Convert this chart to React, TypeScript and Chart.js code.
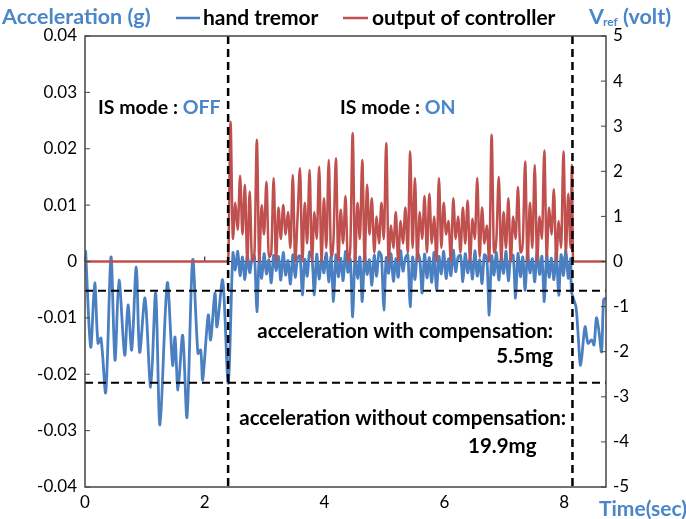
import React, { useEffect, useRef } from "react";
import { Chart, registerables } from "chart.js";
Chart.register(...registerables);

// ---- axes ----
const xTicks = [0, 2, 4, 6, 8];
const leftTicks = [-0.04, -0.03, -0.02, -0.01, 0, 0.01, 0.02, 0.03, 0.04];
const rightTicks = [-5, -4, -3, -2, -1, 0, 1, 2, 3, 4, 5];

// ---- hand tremor (mg) : IS mode OFF ----
const tremorOffT = [0.01, 0.095, 0.162, 0.217, 0.267, 0.346, 0.434, 0.501, 0.568, 0.663, 0.718, 0.78, 0.856, 0.913, 1.002, 1.097, 1.18, 1.252, 1.374, 1.464, 1.503, 1.553, 1.631, 1.703, 1.798, 1.886, 1.932, 1.965, 2.058, 2.098, 2.17, 2.204, 2.299, 2.392];
const tremorOffMg = [2.0, -15.2, -3.8, -14.5, -13.6, -23.2, 0.8, -17.5, -3.3, -16.6, -7.7, -15.7, -1.0, -16.1, -6.5, -22.3, -5.6, -29.0, -3.8, -18.4, -13.4, -22.8, -13.1, -27.6, 0.3, -16.3, -15.7, -21.0, -9.5, -13.9, -5.6, -11.6, -3.3, -21.6];

// ---- hand tremor (mg) : IS mode ON, sampled every 0.04 s from 2.47 s ----
const tremorOnStart = 2.47;
const tremorOnStep = 0.04;
const tremorOnMg = [
  1.5, -1.5, 1.8, -2.5, 0.8, -3.2, 1.2, -2.0, 0.5, 1.0,
  -8.9, 0.6, -3.0, 1.4, -2.2, 0.3, -3.8, 1.1, -1.6, 0.9,
  -3.3, 1.6, -2.4, 0.2, -4.0, 1.2, -2.8, 0.7, 1.0, -5.9,
  0.4, -2.6, 1.7, 0.8, -5.9, 1.3, -3.1, 0.5, -2.0, 1.5,
  -3.6, 0.9, -7.1, 1.2, -2.7, 0.6, -3.4, 1.8, -1.9, 0.4,
  -9.8, 1.0, -3.0, 0.8, -7.1, 1.5, -2.3, 0.3, -4.2, 1.1,
  -2.6, 1.7, 0.9, -8.6, 0.7, -2.1, 1.4, -3.5, 0.5, -2.8,
  1.9, -1.7, 0.6, 1.2, -8.0, 0.8, -3.2, 1.5, 0.4, -5.6,
  1.3, -2.9, 0.7, -3.7, 1.6, -5.1, 0.9, -2.2, 1.8, -3.0,
  0.5, -2.5, 2.0, -1.8, 0.8, 1.1, -3.6, 1.4, -2.0, 0.6,
  -3.1, 1.9, -2.6, 0.3, -3.9, 1.2, 0.5, -9.5, 1.0, -2.4,
  1.6, -3.3, 0.7, -2.1, 1.8, -3.4, 0.9, 1.1, -6.5, 1.4,
  -2.7, 0.8, -5.1, 1.6, -2.0, 0.5, -3.6, 1.9, -2.3, 0.9,
  -7.1, 1.3, -2.8, 0.6, -3.2, 1.7, -6.0, 1.2, -2.5, 2.0,
  -3.0, 0.5,
];

// ---- hand tremor (mg) : after IS mode switched off ----
const tremorTailT = [8.125, 8.197, 8.23, 8.276, 8.35, 8.4, 8.46, 8.5, 8.54, 8.58, 8.626, 8.66, 8.7];
const tremorTailMg = [-5.4, -8.0, -12.2, -18.4, -11.6, -14.5, -13.9, -14.8, -10.0, -12.2, -16.0, -6.8, -6.5];

// ---- output of controller (volt) ----
const ctrlOffT = [0];
const ctrlOffV = [0];
const ctrlOnStart = 2.39;
const ctrlOnStep = 0.04;
const ctrlOnV = [
  0, 3.1, 0.5, 1.3, 0.7, 1.9, 0.6, 1.7, 0, 1.55,
  0, 0.2, 2.7, 0, 1.25, 0.6, 1.77, 0.1, 0.2, 1.85,
  0, 1.2, 0.5, 1.25, 0.6, 1.1, 0.3, 1.92, 0, 1.0,
  2.07, 0, 1.3, 0.4, 2.03, 0, 1.1, 0.5, 2.1, 0,
  1.4, 0.3, 2.25, 0.1, 0.5, 2.29, 0, 1.15, 0.4, 1.45,
  0, 0.3, 2.85, 0, 1.3, 0.5, 2.25, 0, 1.7, 0.6,
  1.4, 0.2, 1.0, 0.4, 1.3, 0.5, 2.63, 0, 0.8, 0.3,
  1.1, 0, 0.9, 0.4, 1.2, 0.2, 2.44, 0.3, 1.85, 0,
  1.1, 0.5, 1.45, 0.2, 1.5, 0.4, 1.0, 0, 1.85, 0.3,
  1.3, 0.6, 0.9, 0, 1.4, 0.5, 1.0, 0.2, 1.2, 0.4,
  1.35, 0, 0.95, 0.5, 1.85, 0.1, 1.2, 0.4, 0.8, 0,
  2.81, 0.2, 0.5, 1.88, 0, 1.1, 0.3, 1.4, 0, 1.0,
  0.5, 1.65, 0.2, 0.4, 2.22, 0, 1.3, 0.3, 2.14, 0,
  1.0, 0.5, 2.46, 0.1, 1.2, 0.6, 1.6, 0, 0.9, 0.3,
  2.44, 0.2, 1.5, 0.3,
];
const ctrlTailT = [8.13, 8.15, 8.7];
const ctrlTailV = [2.14, 0, 0];

// ---- reference marks ----
const modeSwitchT = [2.39, 8.14];
const compLevelsG = [-0.0052, -0.0215];

const BLUE = "#4a7fc1";
const RED = "#c0504d";
const LABEL_BLUE = "#4a86c8";
const FONT = "Lato, 'Open Sans', sans-serif";

function buildTremor() {
  const pts: { x: number; y: number }[] = [];
  tremorOffT.forEach((t, i) => pts.push({ x: t, y: tremorOffMg[i] / 1000 }));
  tremorOnMg.forEach((v, i) => pts.push({ x: tremorOnStart + i * tremorOnStep, y: v / 1000 }));
  tremorTailT.forEach((t, i) => pts.push({ x: t, y: tremorTailMg[i] / 1000 }));
  return pts;
}

function buildCtrl() {
  const pts: { x: number; y: number }[] = [];
  ctrlOffT.forEach((t, i) => pts.push({ x: t, y: ctrlOffV[i] }));
  ctrlOnV.forEach((v, i) => pts.push({ x: ctrlOnStart + i * ctrlOnStep, y: v }));
  ctrlTailT.forEach((t, i) => pts.push({ x: t, y: ctrlTailV[i] }));
  return pts;
}

const decorPlugin = {
  id: "decor",
  beforeDatasetsDraw(chart: any) {
    const { ctx, chartArea: a, scales } = chart;
    const y0 = scales.y.getPixelForValue(0);
    ctx.save();
    ctx.strokeStyle = "#000";
    ctx.lineWidth = 1;
    ctx.beginPath();
    ctx.moveTo(a.left, y0);
    ctx.lineTo(a.right, y0);
    xTicks.forEach((t) => {
      const x = scales.x.getPixelForValue(t);
      ctx.moveTo(x, y0);
      ctx.lineTo(x, y0 - 5);
    });
    ctx.stroke();
    ctx.restore();
  },
  afterDatasetsDraw(chart: any) {
    const { ctx, chartArea: a, scales } = chart;
    ctx.save();
    ctx.strokeStyle = "#000";
    ctx.lineWidth = 2;
    ctx.setLineDash([8, 5]);
    compLevelsG.forEach((g) => {
      const y = scales.y.getPixelForValue(g);
      ctx.beginPath();
      ctx.moveTo(a.left, y);
      ctx.lineTo(a.right, y);
      ctx.stroke();
    });
    ctx.lineWidth = 2.5;
    modeSwitchT.forEach((t) => {
      const x = scales.x.getPixelForValue(t);
      ctx.beginPath();
      ctx.moveTo(x, a.top);
      ctx.lineTo(x, a.bottom);
      ctx.stroke();
    });
    ctx.setLineDash([]);
    // frame
    ctx.strokeStyle = "#444";
    ctx.lineWidth = 1.5;
    ctx.strokeRect(a.left, a.top, a.right - a.left, a.bottom - a.top);
    // inward ticks
    ctx.lineWidth = 1;
    ctx.beginPath();
    leftTicks.forEach((v) => {
      const y = scales.y.getPixelForValue(v);
      ctx.moveTo(a.left, y);
      ctx.lineTo(a.left + 5, y);
    });
    rightTicks.forEach((v) => {
      const y = scales.y1.getPixelForValue(v);
      ctx.moveTo(a.right, y);
      ctx.lineTo(a.right - 5, y);
    });
    ctx.stroke();
    ctx.restore();
  },
  afterDraw(chart: any) {
    const { ctx } = chart;
    ctx.save();
    ctx.textBaseline = "middle";
    ctx.textAlign = "left";
    const bold = (s: number) => `bold ${s}px ${FONT}`;
    // axis titles
    ctx.font = bold(21.5);
    ctx.fillStyle = LABEL_BLUE;
    ctx.fillText("Acceleration (g)", 2, 17);
    ctx.fillText("V", 589, 17);
    ctx.font = bold(12);
    ctx.fillText("ref", 603, 22);
    ctx.font = bold(21.5);
    ctx.fillText("(volt)", 623, 17);
    ctx.font = bold(21);
    ctx.fillText("Time(sec)", 599, 509);
    // legend
    ctx.lineWidth = 2.5;
    ctx.strokeStyle = BLUE;
    ctx.beginPath();
    ctx.moveTo(176, 18);
    ctx.lineTo(200, 18);
    ctx.stroke();
    ctx.strokeStyle = RED;
    ctx.beginPath();
    ctx.moveTo(343, 18);
    ctx.lineTo(368, 18);
    ctx.stroke();
    ctx.font = bold(21);
    ctx.fillStyle = "#000";
    ctx.fillText("hand tremor", 203, 18);
    ctx.fillText("output of controller", 372, 18);
    // IS mode
    ctx.font = bold(19.5);
    const mode = (x: number, y: number, state: string) => {
      ctx.fillStyle = "#000";
      const head = "IS mode : ";
      ctx.fillText(head, x, y);
      const w = ctx.measureText(head).width;
      ctx.fillStyle = LABEL_BLUE;
      ctx.fillText(state, x + w, y);
    };
    mode(98, 108, "OFF");
    mode(340, 108, "ON");
    // compensation notes
    ctx.font = bold(20.5);
    ctx.fillStyle = "#000";
    ctx.textAlign = "right";
    ctx.fillText("acceleration with compensation:", 553, 331);
    ctx.fillText("5.5mg", 553, 356);
    ctx.fillText("acceleration without compensation:", 566, 418);
    ctx.textAlign = "left";
    ctx.fillText("19.9mg", 468, 446);
    ctx.restore();
  },
};

export default function App() {
  const ref = useRef<HTMLCanvasElement | null>(null);
  useEffect(() => {
    document.body.style.margin = "0";
    if (!ref.current) return;
    const chart = new Chart(ref.current, {
      type: "line",
      data: {
        datasets: [
          {
            label: "output of controller",
            data: buildCtrl(),
            yAxisID: "y1",
            borderColor: RED,
            borderWidth: 2.5,
            pointRadius: 0,
            cubicInterpolationMode: "monotone",
            fill: false,
          },
          {
            label: "hand tremor",
            data: buildTremor(),
            yAxisID: "y",
            borderColor: BLUE,
            borderWidth: 2.8,
            pointRadius: 0,
            tension: 0.3,
            fill: false,
          },
        ],
      },
      options: {
        animation: false,
        responsive: false,
        parsing: true,
        layout: { padding: { top: 36, left: 0, right: 0, bottom: 0 } },
        plugins: { legend: { display: false }, tooltip: { enabled: false } },
        scales: {
          x: {
            type: "linear",
            position: "bottom",
            min: 0,
            max: 8.7,
            afterBuildTicks: (s: any) => {
              s.ticks = xTicks.map((v) => ({ value: v }));
            },
            afterFit: (s: any) => {
              s.height = 32;
            },
            grid: { display: false, drawTicks: false },
            border: { display: false },
            ticks: { color: "#000", font: { family: FONT, size: 17 }, padding: 5, maxRotation: 0 },
          },
          y: {
            type: "linear",
            position: "left",
            min: -0.04,
            max: 0.04,
            afterBuildTicks: (s: any) => {
              s.ticks = leftTicks.map((v) => ({ value: v }));
            },
            afterFit: (s: any) => {
              s.width = 85;
            },
            grid: { display: false, drawTicks: false },
            border: { display: false },
            ticks: {
              color: "#000",
              font: { family: FONT, size: 17 },
              padding: 8,
              callback: (v: any) => (Math.abs(v) < 1e-9 ? "0" : Number(v).toFixed(2)),
            },
          },
          y1: {
            type: "linear",
            position: "right",
            min: -5,
            max: 5,
            afterBuildTicks: (s: any) => {
              s.ticks = rightTicks.map((v) => ({ value: v }));
            },
            afterFit: (s: any) => {
              s.width = 80;
            },
            grid: { display: false, drawTicks: false },
            border: { display: false },
            ticks: { color: "#000", font: { family: FONT, size: 17 }, padding: 7, callback: (v: any) => String(Math.round(v)) },
          },
        },
      },
      plugins: [decorPlugin],
    } as any);
    return () => chart.destroy();
  }, []);
  return (
    <div style={{ position: "fixed", left: 0, top: 0, width: 686, height: 519, background: "#fff" }}>
      <canvas ref={ref} width={686} height={519} style={{ width: 686, height: 519, display: "block" }} />
    </div>
  );
}
